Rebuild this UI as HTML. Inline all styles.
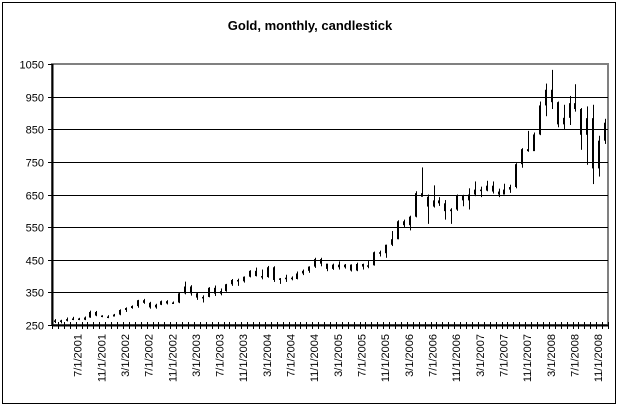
<!DOCTYPE html>
<html><head><meta charset="utf-8"><style>
html,body{margin:0;padding:0;background:#fff;}
svg{display:block;font-family:"Liberation Sans",Arial,sans-serif;}
</style></head><body>
<svg id="chart" width="619" height="408" viewBox="0 0 619 408">
<rect x="2.5" y="2.5" width="613" height="401" fill="#fff" stroke="#000" stroke-width="1"/>
<text x="310" y="30" text-anchor="middle" font-size="13" font-weight="bold">Gold, monthly, candlestick</text>
<g id="grid"></g>
<g id="yaxis"></g>
<g id="xaxis"></g>
<g id="candles"></g>
</svg>
<script>
const months = ["3/1/2001","4/1/2001","5/1/2001","6/1/2001","7/1/2001","8/1/2001","9/1/2001","10/1/2001","11/1/2001","12/1/2001",
"1/1/2002","2/1/2002","3/1/2002","4/1/2002","5/1/2002","6/1/2002","7/1/2002","8/1/2002","9/1/2002","10/1/2002","11/1/2002","12/1/2002",
"1/1/2003","2/1/2003","3/1/2003","4/1/2003","5/1/2003","6/1/2003","7/1/2003","8/1/2003","9/1/2003","10/1/2003","11/1/2003","12/1/2003",
"1/1/2004","2/1/2004","3/1/2004","4/1/2004","5/1/2004","6/1/2004","7/1/2004","8/1/2004","9/1/2004","10/1/2004","11/1/2004","12/1/2004",
"1/1/2005","2/1/2005","3/1/2005","4/1/2005","5/1/2005","6/1/2005","7/1/2005","8/1/2005","9/1/2005","10/1/2005","11/1/2005","12/1/2005",
"1/1/2006","2/1/2006","3/1/2006","4/1/2006","5/1/2006","6/1/2006","7/1/2006","8/1/2006","9/1/2006","10/1/2006","11/1/2006","12/1/2006",
"1/1/2007","2/1/2007","3/1/2007","4/1/2007","5/1/2007","6/1/2007","7/1/2007","8/1/2007","9/1/2007","10/1/2007","11/1/2007","12/1/2007",
"1/1/2008","2/1/2008","3/1/2008","4/1/2008","5/1/2008","6/1/2008","7/1/2008","8/1/2008","9/1/2008","10/1/2008","11/1/2008","12/1/2008"];
const closeVals = [264,263,268,270,266,273,290,279,275,276,
282,296,302,308,326,318,304,312,323,316,319,347,
368,347,334,336,364,346,354,375,388,384,398,416,
400,397,427,388,393,395,391,408,416,429,452,438,
422,435,427,435,417,437,429,433,473,470,496,513,
568,556,582,654,643,613,632,623,599,604,646,632,
650,665,662,677,659,650,665,673,743,789,783,834,
923,971,933,865,885,930,912,833,884,730,815,870];
const openVals = [262,264,263,268,270,266,273,290,279,275,
276,282,296,302,308,326,318,304,312,323,316,319,
347,368,347,334,336,364,346,354,375,388,384,398,
416,400,397,427,388,393,395,391,408,416,429,452,
438,422,435,427,435,417,437,429,433,473,470,496,
513,568,556,582,654,643,613,632,623,599,604,646,
632,650,665,662,677,659,650,665,673,743,789,783,
834,923,971,933,865,885,930,912,833,884,730,815];
const highVals = [268,266,273,275,272,276,294,293,280,280,
284,298,304,310,327,330,321,315,325,326,322,350,
383,372,351,341,366,371,362,376,391,392,399,418,
426,420,431,430,394,404,399,414,420,430,456,456,
432,438,445,437,436,441,438,446,475,478,496,538,
571,573,585,660,733,650,678,642,633,608,650,649,
669,690,674,692,690,668,683,680,746,792,845,840,
935,990,1032,935,925,952,988,915,920,925,830,882];
const lowVals = [256,255,261,265,265,265,272,277,274,271,
278,280,290,300,303,315,300,300,311,313,315,317,
344,340,327,319,335,339,341,352,370,370,380,396,
399,390,395,382,376,382,387,390,403,410,425,430,
415,419,420,423,414,415,420,424,432,460,456,492,
513,548,540,580,645,560,610,615,573,560,600,614,
604,645,642,660,653,642,650,655,669,732,781,792,
832,890,912,856,850,863,904,787,741,682,705,805];
const yTicks = [250,350,450,550,650,750,850,950,1050];

const NS="http://www.w3.org/2000/svg";
const L=52,R=608,T=64,B=325,YMIN=250,YMAX=1050;
const n=months.length, step=(R-L)/n;
function y(v){return B-(v-YMIN)/(YMAX-YMIN)*(B-T);}
function xc(i){return L+(i+0.5)*step;}
function mk(tag,attrs,parent){const e=document.createElementNS(NS,tag);for(const k in attrs)e.setAttribute(k,attrs[k]);parent.appendChild(e);return e;}
const grid=document.getElementById('grid'),ya=document.getElementById('yaxis'),xa=document.getElementById('xaxis'),cg=document.getElementById('candles');
const frame=mk('rect',{x:L,y:T,width:R-L,height:B-T,fill:'none',stroke:'#808080','stroke-width':2},grid);


yTicks.forEach(v=>{
  const yy=Math.round(y(v))+0.5;
  if(v>YMIN&&v<YMAX){const g=mk('line',{x1:L,x2:R,y1:yy,y2:yy,stroke:'#000','stroke-width':1},grid);
    
    }
  const tk=mk('line',{x1:L-4,x2:L,y1:yy,y2:yy,stroke:'#000'},ya);
  
  
  const t=mk('text',{x:L-8,y:yy+4,'text-anchor':'end','font-size':11},ya);
  t.textContent=v;
  
  
});
const ax=mk('line',{x1:L+0.5,x2:L+0.5,y1:T,y2:B,stroke:'#000','stroke-width':2},ya);


const xl=mk('line',{x1:L,x2:R,y1:B+0.5,y2:B+0.5,stroke:'#000','stroke-width':2},xa);


for(let i=0;i<=n;i++){const xx=Math.round(L+i*step)+0.5;
  const tk=mk('line',{x1:xx,x2:xx,y1:B-3,y2:B+4,stroke:'#000'},xa);
  
  }
months.forEach((m,i)=>{
  if(i%4!==0||i===0)return;
  const xx=xc(i)-1, yy=334;
  const t=mk('text',{x:xx,y:yy,'text-anchor':'end','font-size':11,transform:'rotate(-90 '+xx+' '+yy+')',dy:'4'},xa);
  t.textContent=m;
  
  
});
months.forEach((m,i)=>{
  const g=mk('g',{},cg);
  
  
  const cx=Math.round(xc(i));
  mk('rect',{x:cx,y:y(highVals[i]),width:1,height:y(lowVals[i])-y(highVals[i]),fill:'#000'},g);
  const o=openVals[i],c=closeVals[i];
  const top=y(Math.max(o,c)),bot=y(Math.min(o,c));
  mk('rect',{x:cx-1,y:top,width:2,height:Math.max(1.5,bot-top),fill:'#000'},g);
});
</script>
</body></html>
